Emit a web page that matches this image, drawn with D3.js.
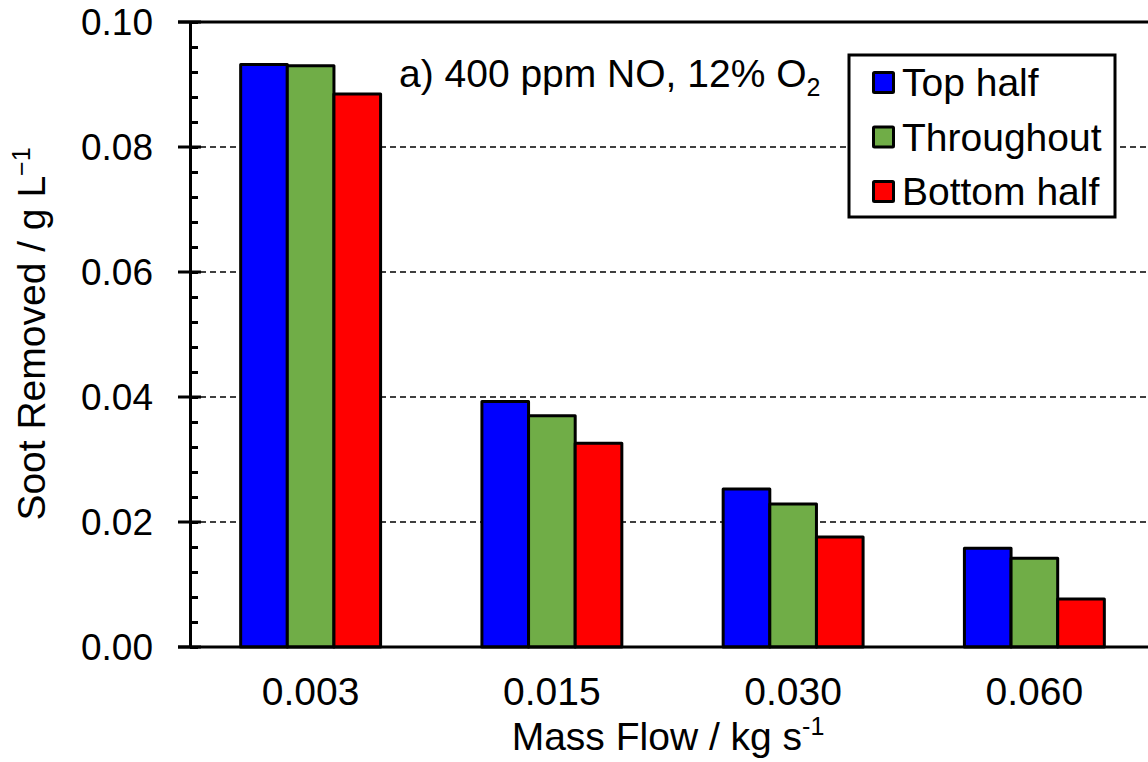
<!DOCTYPE html>
<html>
<head>
<meta charset="utf-8">
<script src="https://cdn.jsdelivr.net/npm/d3@7"></script>
<style>
  body { margin: 0; background: #fff; }
  text { font-family: "Liberation Sans", Arial, sans-serif; fill: #000; }
</style>
</head>
<body>
<svg width="1148" height="762"></svg>
<script>
// data
var categories = ["0.003", "0.015", "0.030", "0.060"];
var seriesNames = ["Top half", "Throughout", "Bottom half"];
var seriesColors = ["#0000ff", "#70ad47", "#ff0000"];
var topHalf = [0.0932, 0.0393, 0.0253, 0.0158];
var throughout = [0.0930, 0.0370, 0.0229, 0.0142];
var bottomHalf = [0.0885, 0.0326, 0.0176, 0.0077];
var yTicks = [0, 0.02, 0.04, 0.06, 0.08, 0.10];

var seriesValues = [topHalf, throughout, bottomHalf];
var rows = categories.map(function(c, i) {
    return { cat: c, vals: seriesValues.map(function(s, j) { return { name: seriesNames[j], v: s[i], k: j }; }) };
});

var svg = d3.select("svg");
var pLeft = 190, pRight = 1155, pTop = 22, pBottom = 647;
var fs = 39;

var x = d3.scaleBand().domain(categories).range([pLeft, pRight]).paddingInner(0.42).paddingOuter(0.21);
var xs = d3.scaleBand().domain(d3.range(seriesNames.length)).range([0, x.bandwidth()]);
var y = d3.scaleLinear().domain([0, 0.1]).range([pBottom, pTop]);

// dashed gridlines
svg.append("g").selectAll("line")
    .data(yTicks.filter(function(d) { return d > 0 && d < 0.1; }))
    .enter().append("line")
    .attr("x1", pLeft).attr("x2", 1148)
    .attr("y1", function(d) { return y(d); })
    .attr("y2", function(d) { return y(d); })
    .attr("stroke", "#000").attr("stroke-width", 1.3)
    .attr("stroke-dasharray", "6,4");

// bars
var groups = svg.append("g").selectAll("g").data(rows).enter().append("g")
    .attr("transform", function(d) { return "translate(" + x(d.cat) + ",0)"; });
groups.selectAll("rect").data(function(d) { return d.vals; }).enter().append("rect")
    .attr("x", function(d) { return xs(d.k); })
    .attr("width", xs.bandwidth())
    .attr("y", function(d) { return y(d.v); })
    .attr("height", function(d) { return y(0) - y(d.v); })
    .attr("fill", function(d) { return seriesColors[d.k]; })
    .attr("stroke", "#000").attr("stroke-width", 3)
    .attr("stroke-linejoin", "round");

// top border
svg.append("line").attr("x1", pLeft - 12).attr("x2", 1148).attr("y1", pTop).attr("y2", pTop)
    .attr("stroke", "#000").attr("stroke-width", 3);

// y axis with minor ticks
var yAxis = d3.axisLeft(y).tickValues(d3.range(0, 0.1001, 0.004)).tickSize(0).tickFormat("");
var ya = svg.append("g").attr("transform", "translate(" + pLeft + ",0)").call(yAxis);
ya.select(".domain").attr("stroke", "#000").attr("stroke-width", 3);
ya.selectAll(".tick line").attr("x1", 0).attr("x2", 8).attr("stroke", "#000").attr("stroke-width", 3);
var ymaj = svg.append("g").selectAll("g").data(yTicks).enter().append("g")
    .attr("transform", function(d) { return "translate(0," + y(d) + ")"; });
ymaj.append("line").attr("x1", pLeft - 12).attr("x2", pLeft + 11)
    .attr("stroke", "#000").attr("stroke-width", 3);
ymaj.append("text").attr("x", 153).attr("dy", "0.36em").attr("text-anchor", "end")
    .style("font-size", "37px")
    .text(function(d) { return d3.format(".2f")(d); });

// x axis
svg.append("line").attr("x1", pLeft - 12).attr("x2", 1148).attr("y1", pBottom).attr("y2", pBottom)
    .attr("stroke", "#000").attr("stroke-width", 3);
var xAxis = d3.axisBottom(x).tickSize(0).tickPadding(0);
var xa = svg.append("g").attr("transform", "translate(0," + pBottom + ")").call(xAxis);
xa.select(".domain").remove();
xa.selectAll(".tick text").attr("y", 58).attr("dy", 0)
    .style("font-size", fs + "px").style("font-family", "Liberation Sans, Arial, sans-serif");

// axis titles
var xt = svg.append("text").attr("x", 668).attr("y", 750).attr("text-anchor", "middle")
    .style("font-size", fs + "px").text("Mass Flow / kg s");
xt.append("tspan").attr("dy", -15).style("font-size", "25px").text("-1");

var yt = svg.append("text").attr("transform", "translate(45,334) rotate(-90)")
    .attr("text-anchor", "middle").style("font-size", fs + "px").text("Soot Removed / g L");
yt.append("tspan").attr("dy", -15).style("font-size", "25px").text("\u22121");

// annotation
var an = svg.append("text").attr("x", 399).attr("y", 87).style("font-size", fs + "px")
    .text("a) 400 ppm NO, 12% O");
an.append("tspan").attr("dy", 9).style("font-size", "25px").text("2");

// legend
var lg = svg.append("g");
lg.append("rect").attr("x", 849).attr("y", 55).attr("width", 266).attr("height", 162)
    .attr("fill", "#fff").attr("stroke", "#000").attr("stroke-width", 3);
var li = lg.selectAll("g.item").data(seriesNames).enter().append("g").attr("class", "item")
    .attr("transform", function(d, i) { return "translate(0," + (82 + i * 54.5) + ")"; });
li.append("rect").attr("x", 873.5).attr("y", -9.5).attr("width", 20).attr("height", 20)
    .attr("fill", function(d, i) { return seriesColors[i]; })
    .attr("stroke", "#000").attr("stroke-width", 3).attr("rx", 1);
li.append("text").attr("x", 902).attr("dy", "0.36em").style("font-size", fs + "px")
    .text(function(d) { return d; });
</script>
</body>
</html>
